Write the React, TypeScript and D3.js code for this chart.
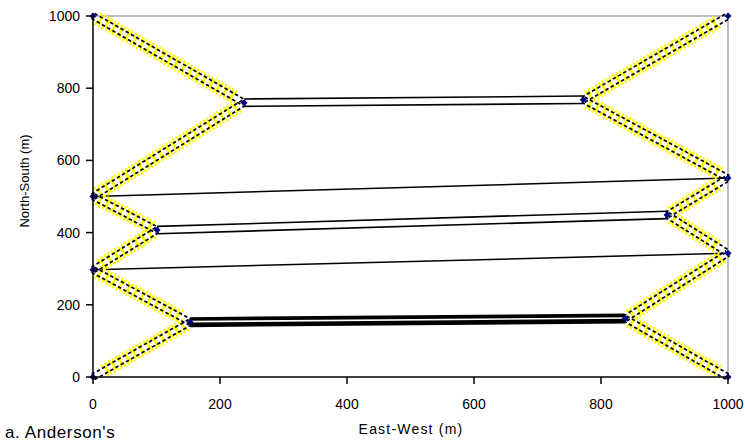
import React from "react";
import * as d3 from "d3";

// Nodes of the network (East-West m, North-South m)
const nodeNames = ["NW", "W1", "W2", "SW", "NE", "E1", "E2", "SE", "A", "B", "C", "D", "E", "F"];
const nodeX = [0, 0, 0, 0, 1000, 1000, 1000, 1000, 238, 772, 101, 904, 153, 838];
const nodeY = [1000, 500, 297, 0, 1000, 551, 343, 0, 760, 768, 407, 449, 152, 162];

// Segments (pairs of node names)
const diagonalSegs: [string, string][] = [
  ["NW", "A"], ["W1", "A"], ["B", "NE"], ["B", "E1"],
  ["W1", "C"], ["C", "W2"], ["D", "E1"], ["D", "E2"],
  ["W2", "E"], ["E", "SW"], ["F", "E2"], ["F", "SE"],
];
const doubleSegs: [string, string][] = [["A", "B"], ["C", "D"]];
const thickSegs: [string, string][] = [["E", "F"]];
const singleSegs: [string, string][] = [["W1", "E1"], ["W2", "E2"]];

const xTicks = [0, 200, 400, 600, 800, 1000];
const yTicks = [0, 200, 400, 600, 800, 1000];

const W = 745, H = 443;
const x = d3.scaleLinear().domain([0, 1000]).range([93, 728]);
const y = d3.scaleLinear().domain([0, 1000]).range([377, 16]);

function pt(name: string): [number, number] {
  const i = nodeNames.indexOf(name);
  return [x(nodeX[i]), y(nodeY[i])];
}

function offsetLine(a: [number, number], b: [number, number], off: number) {
  const dx = b[0] - a[0], dy = b[1] - a[1];
  const len = Math.hypot(dx, dy);
  const nx = -dy / len, ny = dx / len;
  return [a[0] + nx * off, a[1] + ny * off, b[0] + nx * off, b[1] + ny * off];
}

function crossMarks(a: [number, number], b: [number, number]) {
  const dx = b[0] - a[0], dy = b[1] - a[1];
  const len = Math.hypot(dx, dy);
  const tx = dx / len, ty = dy / len;
  const nx = -ty, ny = tx;
  const step = 8;
  const n = Math.floor(len / step);
  let d = "";
  for (let k = 1; k < n; k++) {
    const cx = a[0] + tx * k * step, cy = a[1] + ty * k * step;
    const h = 7, s = 2.5;
    d += `M${cx - nx * h - tx * s},${cy - ny * h - ty * s}L${cx + nx * h + tx * s},${cy + ny * h + ty * s}`;
    d += `M${cx - nx * h + tx * s},${cy - ny * h + ty * s}L${cx + nx * h - tx * s},${cy + ny * h - ty * s}`;
  }
  return d;
}

const font = "'Liberation Sans', Arial, sans-serif";

export default function App() {
  return (
    <svg width={W} height={H} style={{ position: "absolute", left: 0, top: 0, background: "#fff" }}>
      {/* plot border (gray top/right) */}
      <line x1={93} y1={16} x2={728} y2={16} stroke="#a8a8a8" strokeWidth={1.5} />
      <line x1={728} y1={16} x2={728} y2={377} stroke="#a8a8a8" strokeWidth={1.5} />

      {/* single lines */}
      {singleSegs.map(([p, q], i) => {
        const a = pt(p), b = pt(q);
        return <line key={"s" + i} x1={a[0]} y1={a[1]} x2={b[0]} y2={b[1]} stroke="#000" strokeWidth={1.5} />;
      })}

      {/* double roads */}
      {doubleSegs.map(([p, q], i) => {
        const a = pt(p), b = pt(q);
        return (
          <g key={"d" + i}>
            <line x1={a[0]} y1={a[1]} x2={b[0]} y2={b[1]} stroke="#000" strokeWidth={9} />
            <line x1={a[0]} y1={a[1]} x2={b[0]} y2={b[1]} stroke="#fff" strokeWidth={5.8} />
          </g>
        );
      })}

      {/* thick band */}
      {thickSegs.map(([p, q], i) => {
        const a = pt(p), b = pt(q);
        const o = offsetLine(a, b, -0.5);
        return (
          <g key={"t" + i}>
            <line x1={a[0]} y1={a[1]} x2={b[0]} y2={b[1]} stroke="#000" strokeWidth={10} />
            <line x1={o[0]} y1={o[1]} x2={o[2]} y2={o[3]} stroke="#fff" strokeWidth={1.6} />
          </g>
        );
      })}

      {/* diagonals: yellow x markers + dashed double lines */}
      {diagonalSegs.map(([p, q], i) => {
        const a = pt(p), b = pt(q);
        return <path key={"y" + i} d={crossMarks(a, b)} stroke="#ffff00" strokeWidth={2.1} fill="none" />;
      })}
      {diagonalSegs.map(([p, q], i) => {
        const a = pt(p), b = pt(q);
        return (
          <g key={"k" + i}>
            {[-3, 3].map((off) => {
              const o = offsetLine(a, b, off);
              return (
                <line key={off} x1={o[0]} y1={o[1]} x2={o[2]} y2={o[3]} stroke="#000" strokeWidth={1.7} strokeDasharray="3.5 2.5" />
              );
            })}
          </g>
        );
      })}

      {/* nodes */}
      {nodeNames.map((n) => {
        const [cx, cy] = pt(n);
        return <path key={n} d={`M${cx},${cy - 3.5}L${cx + 3.5},${cy}L${cx},${cy + 3.5}L${cx - 3.5},${cy}Z`} fill="#000080" />;
      })}

      {/* axes */}
      <line x1={93} y1={16} x2={93} y2={377} stroke="#000" strokeWidth={1.5} />
      <line x1={93} y1={377} x2={728} y2={377} stroke="#000" strokeWidth={1.5} />
      {xTicks.map((t) => (
        <g key={"xt" + t}>
          <line x1={x(t)} y1={377} x2={x(t)} y2={384} stroke="#000" strokeWidth={1.5} />
          <text x={x(t)} y={409} textAnchor="middle" fontFamily={font} fontSize={14} fill="#000">{t}</text>
        </g>
      ))}
      {yTicks.map((t) => (
        <g key={"yt" + t}>
          <line x1={86} y1={y(t)} x2={93} y2={y(t)} stroke="#000" strokeWidth={1.5} />
          <text x={80} y={y(t) + 5} textAnchor="end" fontFamily={font} fontSize={14} fill="#000">{t}</text>
        </g>
      ))}
      <text x={411} y={434} textAnchor="middle" fontFamily={font} fontSize={14} letterSpacing={1.2} fill="#000">East-West (m)</text>
      <text transform="translate(29,181) rotate(-90)" textAnchor="middle" fontFamily={font} fontSize={13} fill="#000">North-South (m)</text>
      <text x={5} y={438} fontFamily={font} fontSize={17} letterSpacing={0.6} fill="#000">a. Anderson's</text>
    </svg>
  );
}
